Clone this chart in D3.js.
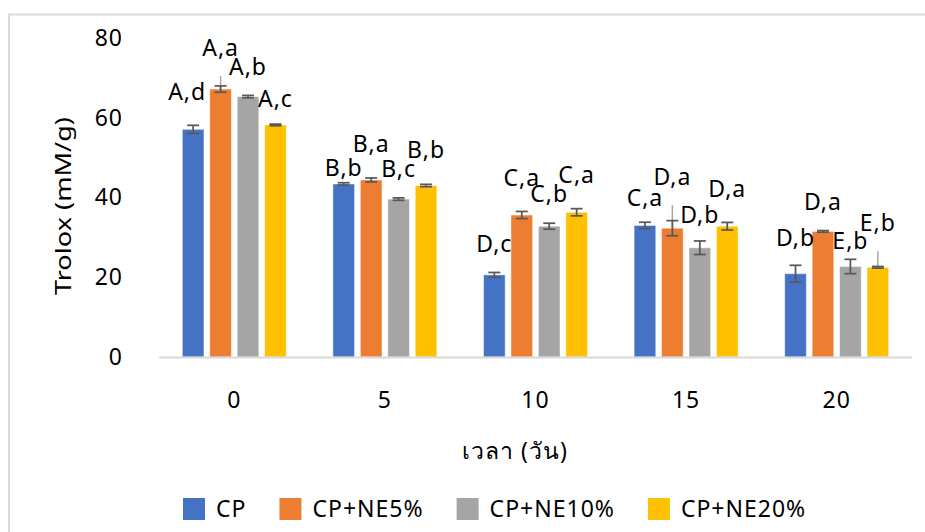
<!DOCTYPE html>
<html>
<head>
<meta charset="utf-8">
<script src="https://cdn.jsdelivr.net/npm/d3@7"></script>
<style>
    body { margin: 0; background: #fff; }
    text { font-family: "Noto Sans", "Open Sans", sans-serif; fill: #000; letter-spacing: 1px; }
</style>
</head>
<body>
<div id="chart"></div>
<script>

// days (x categories) and series
var days = ["0", "5", "10", "15", "20"];
var seriesNames = ["CP", "CP+NE5%", "CP+NE10%", "CP+NE20%"];
var seriesColors = ["#4472C4", "#ED7D31", "#A5A5A5", "#FFC000"];

// Trolox (mM/g) means
var cp   = [57.1, 43.4, 20.6, 33.0, 20.9];
var ne5  = [67.2, 44.4, 35.6, 32.3, 31.5];
var ne10 = [65.3, 39.6, 32.8, 27.4, 22.7];
var ne20 = [58.2, 43.0, 36.3, 32.8, 22.5];

// error bar half widths
var cpErr   = [1.0, 0.3, 0.6, 0.8, 2.1];
var ne5Err  = [0.8, 0.5, 0.9, 1.9, 0.2];
var ne10Err = [0.3, 0.3, 0.75, 1.7, 1.8];
var ne20Err = [0.2, 0.3, 0.9, 0.95, 0.2];

// significance letters
var cpLbl   = ["A,d", "B,b", "D,c", "C,a", "D,b"];
var ne5Lbl  = ["A,a", "B,a", "C,a", "D,a", "D,a"];
var ne10Lbl = ["A,b", "B,c", "C,b", "D,b", "E,b"];
var ne20Lbl = ["A,c", "B,b", "C,a", "D,a", "E,b"];

var yTicks = [0, 20, 40, 60, 80];

// label placement (px above bar top, moved by hand in the original)
var cpDy   = [-29, -8, -23, -19, -28];
var ne5Dy  = [-33, -28, -29, -43, -21];
var ne10Dy = [-22, -22, -24, -25, -17];
var ne20Dy = [-18, -28, -29, -29, -36];
var cpDx   = [-6, 0, 0, 0, 0];

var values = [cp, ne5, ne10, ne20];
var errs = [cpErr, ne5Err, ne10Err, ne20Err];
var lbls = [cpLbl, ne5Lbl, ne10Lbl, ne20Lbl];
var dys = [cpDy, ne5Dy, ne10Dy, ne20Dy];

var W = 925, H = 532;
var margin = {top: 38, left: 159, right: 13, bottom: 175};
var width = W - margin.left - margin.right;
var height = H - margin.top - margin.bottom;
var fs = "23px";

var svg = d3.select("#chart").append("svg")
    .attr("width", W)
    .attr("height", H);

// chart area border (runs past the right and bottom edge)
svg.append("rect")
    .attr("x", 9).attr("y", 14.5)
    .attr("width", 1000).attr("height", 1000)
    .attr("fill", "none")
    .attr("stroke", "#D9D9D9")
    .attr("stroke-width", 2);

var g = svg.append("g")
    .attr("transform", "translate(" + margin.left + "," + margin.top + ")");

var x0 = d3.scaleBand()
    .domain(days)
    .range([0, width])
    .paddingInner(0);

var groupW = 104;
var x1 = d3.scaleBand()
    .domain(d3.range(seriesNames.length))
    .range([-groupW / 2, groupW / 2])
    .paddingInner(0.21);

var y = d3.scaleLinear()
    .domain([0, 80])
    .range([height, 0]);

// y axis labels, no line
var yAxis = d3.axisLeft(y).tickValues(yTicks).tickSize(0).tickPadding(36);
var yG = g.append("g").call(yAxis);
yG.select(".domain").remove();
yG.selectAll("text").style("font-size", fs).attr("font-family", null);

// x axis
var xAxis = d3.axisBottom(x0).tickSize(0).tickPadding(35);
var xG = g.append("g")
    .attr("transform", "translate(0," + height + ")")
    .call(xAxis);
xG.select(".domain").remove();
xG.selectAll("text").style("font-size", fs).attr("font-family", null);

// bars
var data = [];
days.forEach(function(d, i) {
    seriesNames.forEach(function(s, j) {
        data.push({day: d, s: j, v: values[j][i], e: errs[j][i], lbl: lbls[j][i], dy: dys[j][i], dx: j == 0 ? cpDx[i] : 0});
    });
});

function cx(d) { return x0(d.day) + x0.bandwidth() / 2 + x1(d.s) + x1.bandwidth() / 2; }

g.selectAll("rect.bar")
    .data(data)
    .enter()
    .append("rect")
    .attr("class", "bar")
    .attr("x", function(d) { return cx(d) - x1.bandwidth() / 2; })
    .attr("y", function(d) { return y(d.v); })
    .attr("width", x1.bandwidth())
    .attr("height", function(d) { return height - y(d.v); })
    .attr("fill", function(d) { return seriesColors[d.s]; })
    .attr("stroke", "#fff")
    .attr("stroke-opacity", 0.5)
    .attr("stroke-width", 1);

// baseline
g.append("line")
    .attr("x1", 0).attr("x2", width)
    .attr("y1", height + 0.5).attr("y2", height + 0.5)
    .attr("stroke", "#D9D9D9")
    .attr("stroke-width", 2);

// leader lines for labels dragged far from the bar
g.selectAll("line.leader")
    .data(data.filter(function(d) { return d.dy < -32; }))
    .enter()
    .append("line")
    .attr("class", "leader")
    .attr("x1", cx).attr("x2", cx)
    .attr("y1", function(d) { return y(d.v); })
    .attr("y2", function(d) { return y(d.v) + d.dy + 20; })
    .attr("stroke", "#A6A6A6")
    .attr("stroke-width", 1.5);

// error bars
var eb = g.selectAll("g.err")
    .data(data)
    .enter()
    .append("g")
    .attr("class", "err")
    .attr("stroke", "#595959")
    .attr("stroke-width", 1.75);

eb.append("line")
    .attr("x1", cx).attr("x2", cx)
    .attr("y1", function(d) { return y(d.v + d.e); })
    .attr("y2", function(d) { return y(d.v - d.e); });
eb.append("line")
    .attr("x1", function(d) { return cx(d) - 6; }).attr("x2", function(d) { return cx(d) + 6; })
    .attr("y1", function(d) { return y(d.v + d.e); })
    .attr("y2", function(d) { return y(d.v + d.e); });
eb.append("line")
    .attr("x1", function(d) { return cx(d) - 6; }).attr("x2", function(d) { return cx(d) + 6; })
    .attr("y1", function(d) { return y(d.v - d.e); })
    .attr("y2", function(d) { return y(d.v - d.e); });

// data labels
g.selectAll("text.lbl")
    .data(data)
    .enter()
    .append("text")
    .attr("class", "lbl")
    .attr("x", function(d) { return cx(d) + d.dx; })
    .attr("y", function(d) { return y(d.v) + d.dy; })
    .attr("text-anchor", "middle")
    .style("font-size", fs)
    .text(function(d) { return d.lbl; });

// axis titles
svg.append("text")
    .attr("transform", "translate(71,206) rotate(-90)")
    .attr("text-anchor", "middle")
    .attr("textLength", 178)
    .attr("lengthAdjust", "spacingAndGlyphs")
    .style("font-size", "22px")
    .style("letter-spacing", "0px")
    .text("Trolox (mM/g)");

svg.append("text")
    .attr("x", 515)
    .attr("y", 459)
    .attr("text-anchor", "middle")
    .style("font-size", fs)
    .text("เวลา (วัน)");

// legend
var lx = 183;
var legend = svg.append("g").attr("class", "legend");
seriesNames.forEach(function(s, i) {
    var item = legend.append("g").attr("transform", "translate(" + lx + ",498)");
    item.append("rect")
        .attr("width", 22).attr("height", 22)
        .attr("fill", seriesColors[i]);
    var t = item.append("text")
        .attr("x", 33).attr("y", 19)
        .style("font-size", fs)
        .text(s);
    lx += 33 + t.node().getComputedTextLength() + 33;
});

</script>
</body>
</html>
